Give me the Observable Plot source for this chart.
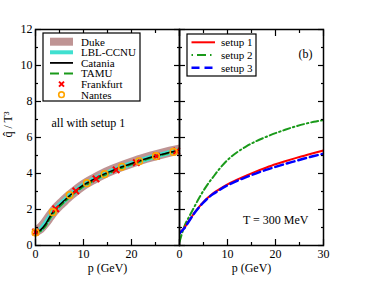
<!DOCTYPE html>
<html><head><meta charset="utf-8">
<script src="https://cdn.jsdelivr.net/npm/d3@7"></script>
<script src="https://cdn.jsdelivr.net/npm/@observablehq/plot@0.6"></script>
<style>
body{margin:0;background:#fff;}
#wrap{position:relative;width:374px;height:289px;overflow:hidden;}
#wrap svg{position:absolute;top:0;overflow:visible;}
</style></head><body><div id="wrap"></div>
<script>
// ---- data ----
const pGrid   = [0,1,2,3,4,5,6,7,8,10,12,14,16,18,20,22,24,26,28,30];
const duke    = [0.80,0.95,1.25,1.62,1.97,2.25,2.50,2.75,2.97,3.37,3.68,3.96,4.20,4.41,4.60,4.78,4.94,5.08,5.21,5.33];
const lblccnu = [0.75,0.88,1.20,1.60,1.97,2.25,2.50,2.75,2.96,3.35,3.65,3.92,4.15,4.36,4.55,4.73,4.89,5.03,5.17,5.29];
const catania = [0.75,0.85,1.15,1.60,1.98,2.25,2.50,2.75,2.97,3.36,3.66,3.93,4.16,4.37,4.56,4.74,4.90,5.04,5.18,5.30];
const tamu    = [0.72,0.80,1.05,1.50,1.88,2.17,2.42,2.67,2.89,3.28,3.58,3.86,4.10,4.31,4.51,4.69,4.86,5.01,5.15,5.28];
const frankfurtP = [0,4.2,8.4,12.6,16.8,21,25.2,29.4];
const frankfurtQ = [0.75,2.04,3.03,3.70,4.20,4.60,4.96,5.25];
const nantesP = [0,3.6,7.1,10.7,14.4,18,21.6,25.1,28.75];
const nantesQ = [0.72,1.85,2.80,3.46,3.96,4.37,4.68,4.96,5.20];

const setup1 = [0.70,0.98,1.38,1.78,2.12,2.42,2.68,2.90,3.08,3.40,3.66,3.90,4.12,4.32,4.51,4.68,4.84,4.99,5.14,5.28];
const setup3 = [0.68,0.96,1.36,1.76,2.10,2.40,2.65,2.86,3.03,3.34,3.59,3.81,4.01,4.20,4.37,4.53,4.68,4.83,4.97,5.10];
const setup2 = [0.20,1.05,1.60,2.10,2.60,3.05,3.45,3.80,4.15,4.75,5.18,5.52,5.80,6.03,6.24,6.43,6.60,6.75,6.87,6.96];

const xMajor = [0,10,20,30], xMinor = [5,15,25];
const yMajor = [0,2,4,6,8,10,12], yMinor = [1,3,5,7,9,11];
const xLabelsLeft = [0,10,20], xLabelsRight = [0,10,20,30];

const leftLegend = ["Duke","LBL-CCNU","Catania","TAMU","Frankfurt","Nantes"];
const rightLegend = ["setup 1","setup 2","setup 3"];

// ---- helpers ----
const rows = (xs, ys) => xs.map((p,i)=>({p, q: ys[i]}));
const font = "'Liberation Serif','DejaVu Serif',serif";
const C = {duke:"#bf9494", lbl:"#40e0d0", catania:"#000", tamu:"#1a9a1a", frank:"#ff0000", nantes:"#ffa500",
           s1:"#ff0000", s2:"#1a9a1a", s3:"#0000ff"};

function tickMarks() {
  const o = {label:null, text:null, strokeWidth:1.2};
  return [
    Plot.axisX(xMajor, {...o, anchor:"bottom", tickSize:-6}),
    Plot.axisX(xMinor, {...o, anchor:"bottom", tickSize:-3}),
    Plot.axisX(xMajor, {...o, anchor:"top", tickSize:-6}),
    Plot.axisX(xMinor, {...o, anchor:"top", tickSize:-3}),
    Plot.axisY(yMajor, {...o, anchor:"left", tickSize:-6}),
    Plot.axisY(yMinor, {...o, anchor:"left", tickSize:-3}),
    Plot.axisY(yMajor, {...o, anchor:"right", tickSize:-6}),
    Plot.axisY(yMinor, {...o, anchor:"right", tickSize:-3}),
    Plot.frame({stroke:"black", strokeWidth:1.5})
  ];
}
const common = {
  height:289, marginTop:29, marginBottom:44,
  x:{domain:[0,30]}, y:{domain:[0,12]},
  style:{fontFamily:font, fontSize:"12px", color:"black", background:"transparent", overflow:"visible"}
};

const left = Plot.plot({
  ...common, width:179, marginLeft:35, marginRight:0,
  marks:[
    Plot.line(rows(pGrid,duke), {x:"p", y:"q", stroke:C.duke, strokeWidth:10, clip:true, curve:"monotone-x"}),
    Plot.line(rows(pGrid,lblccnu), {x:"p", y:"q", stroke:C.lbl, strokeWidth:5, clip:true, curve:"monotone-x"}),
    Plot.line(rows(pGrid,tamu), {x:"p", y:"q", stroke:C.tamu, strokeWidth:2, strokeDasharray:"6,3", clip:true, curve:"monotone-x"}),
    Plot.line(rows(pGrid,catania), {x:"p", y:"q", stroke:C.catania, strokeWidth:1.6, clip:true, curve:"monotone-x"}),
    Plot.dot(rows(frankfurtP,frankfurtQ), {x:"p", y:"q", symbol:"times", r:3, stroke:C.frank, strokeWidth:2}),
    Plot.dot(rows(nantesP,nantesQ), {x:"p", y:"q", symbol:"circle", r:3.3, stroke:C.nantes, strokeWidth:1.6}),
    ...tickMarks(),
    Plot.axisX(xLabelsLeft, {anchor:"bottom", tickSize:0, tickPadding:4, label:null}),
    Plot.axisY(yMajor, {anchor:"left", tickSize:0, tickPadding:3, label:null}),
    Plot.text(["p (GeV)"], {frameAnchor:"bottom", dy:26, fontSize:12}),
    Plot.text(["q\u0302 / T\u00b3"], {frameAnchor:"left", rotate:-90, dx:-27, fontSize:12}),
    Plot.text(["all with setup 1"], {frameAnchor:"top-left", dx:16, dy:89, textAnchor:"start", fontSize:12})
  ]
});

const right = Plot.plot({
  ...common, width:195, marginLeft:0, marginRight:51,
  marks:[
    Plot.line(rows(pGrid,setup2), {x:"p", y:"q", stroke:C.s2, strokeWidth:2, strokeDasharray:"7,3,1.5,3", clip:true, curve:"monotone-x"}),
    Plot.line(rows(pGrid,setup1), {x:"p", y:"q", stroke:C.s1, strokeWidth:2, clip:true, curve:"monotone-x"}),
    Plot.line(rows(pGrid,setup3), {x:"p", y:"q", stroke:C.s3, strokeWidth:2.5, strokeDasharray:"8,4", clip:true, curve:"monotone-x"}),
    ...tickMarks(),
    Plot.axisX(xLabelsRight, {anchor:"bottom", tickSize:0, tickPadding:4, label:null}),
    Plot.text(["p (GeV)"], {frameAnchor:"bottom", dy:26, fontSize:12}),
    Plot.text(["(b)"], {frameAnchor:"top-right", dx:-11, dy:20, textAnchor:"end", fontSize:12}),
    Plot.text(["T = 300 MeV"], {frameAnchor:"bottom-right", dx:-15, dy:-22, textAnchor:"end", fontSize:12})
  ]
});

const wrap = document.getElementById("wrap");
left.style.left = "0px"; right.style.left = "179px";
wrap.appendChild(left); wrap.appendChild(right);

// ---- legends ----
function drawLegend(svg, box, labels, draw, rowH) {
  const g = d3.select(svg).append("g").attr("text-anchor","start");
  g.append("rect").attr("x",box.x).attr("y",box.y).attr("width",box.w).attr("height",box.h)
    .attr("fill","white").attr("stroke","black").attr("stroke-width",1.2);
  labels.forEach((lab,i)=>{
    const cy = box.y + box.first + i*rowH;
    draw(g, lab, i, cy);
    g.append("text").attr("x", box.tx).attr("y", cy).attr("dy","0.35em").attr("text-anchor","start")
      .attr("font-family",font).attr("font-size",11).attr("fill","black").text(lab);
  });
}
drawLegend(left, {x:43, y:33, w:97, h:68, first:8.7, tx:81}, leftLegend, (g, lab, i, cy)=>{
  const x1 = 50, x2 = 73, xm = 61.5;
  if (i===0) g.append("rect").attr("x",x1).attr("y",cy-4).attr("width",x2-x1).attr("height",8).attr("fill",C.duke);
  else if (i===1) g.append("rect").attr("x",x1).attr("y",cy-2).attr("width",x2-x1).attr("height",4).attr("fill",C.lbl);
  else if (i===2) g.append("line").attr("x1",x1).attr("x2",x2).attr("y1",cy).attr("y2",cy).attr("stroke",C.catania).attr("stroke-width",1.8);
  else if (i===3) g.append("line").attr("x1",x1).attr("x2",x2).attr("y1",cy).attr("y2",cy).attr("stroke",C.tamu).attr("stroke-width",2).attr("stroke-dasharray","9,5");
  else if (i===4) g.append("path").attr("d",`M${xm-2.5},${cy-2.5}L${xm+2.5},${cy+2.5}M${xm-2.5},${cy+2.5}L${xm+2.5},${cy-2.5}`).attr("stroke",C.frank).attr("stroke-width",2);
  else g.append("circle").attr("cx",xm).attr("cy",cy).attr("r",2.8).attr("fill","none").attr("stroke",C.nantes).attr("stroke-width",1.6);
}, 10.6);
drawLegend(right, {x:8, y:34, w:69, h:42, first:8.3, tx:42}, rightLegend, (g, lab, i, cy)=>{
  const x1 = 12.5, x2 = 36;
  const st = [[C.s1,2,null],[C.s2,2,"1.5,4,9,4"],[C.s3,2.5,"8,5"]][i];
  g.append("line").attr("x1",x1).attr("x2",x2).attr("y1",cy).attr("y2",cy)
    .attr("stroke",st[0]).attr("stroke-width",st[1]).attr("stroke-dasharray",st[2]);
}, 12.7);
</script></body></html>
